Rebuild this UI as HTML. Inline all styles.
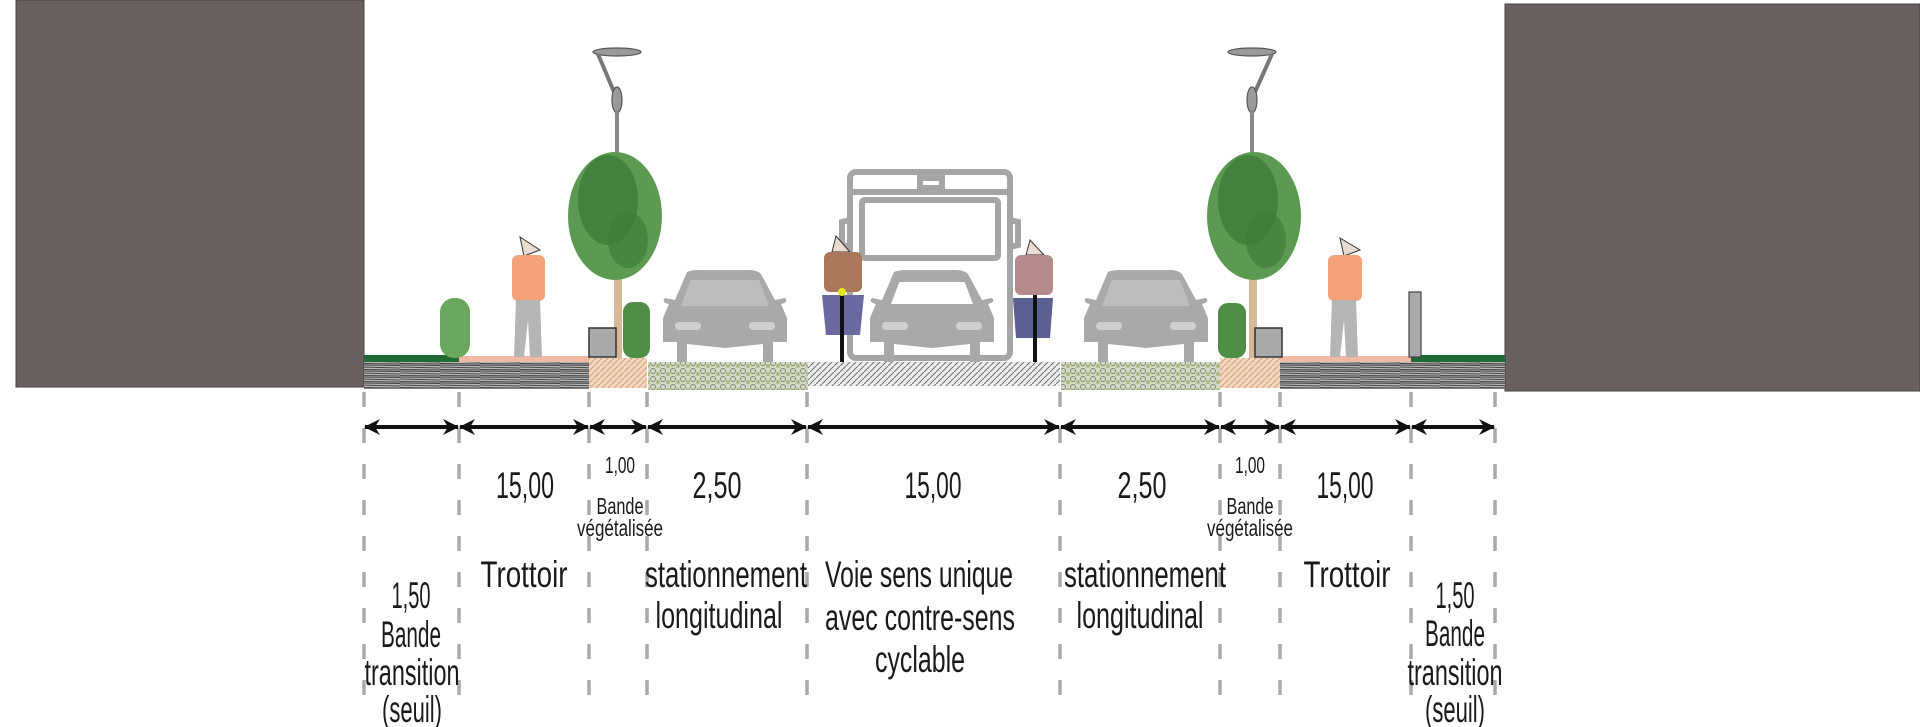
<!DOCTYPE html>
<html><head><meta charset="utf-8"><style>
html,body{margin:0;padding:0;background:#fff;}
svg{display:block;}
text{font-family:"Liberation Sans Narrow","Liberation Sans",sans-serif;fill:#1a1a1a;}
</style></head><body>
<svg width="1920" height="727" viewBox="0 0 1920 727" xmlns="http://www.w3.org/2000/svg">
<defs>
<pattern id="dark" width="40" height="6" patternUnits="userSpaceOnUse">
<rect width="40" height="6" fill="#b9b9b9"/>
<path d="M0 1 L40 2 M0 3.5 L40 4 M0 5 L40 5.5" stroke="#444" stroke-width="1"/>
</pattern>
<pattern id="road" width="6" height="6" patternUnits="userSpaceOnUse">
<rect width="6" height="6" fill="#eee"/>
<path d="M0 6 L6 0" stroke="#777" stroke-width="1.1"/>
</pattern>
<pattern id="tan" width="6" height="6" patternUnits="userSpaceOnUse">
<rect width="6" height="6" fill="#f2d6bf"/>
<path d="M0 6 L6 0" stroke="#d6a680" stroke-width="1.2"/>
</pattern>
<pattern id="park" width="10" height="8" patternUnits="userSpaceOnUse">
<rect width="10" height="8" fill="#d4d8c6"/>
<circle cx="3" cy="3" r="2.5" fill="none" stroke="#7e8870" stroke-width="0.9"/>
<circle cx="8" cy="6" r="2" fill="#a9bc80"/>
</pattern>
<marker id="ah" viewBox="0 0 16 16" refX="15" refY="8" markerWidth="16" markerHeight="16" markerUnits="userSpaceOnUse" orient="auto-start-reverse">
<path d="M0 0 L16 8 L0 16 L5 8 Z" fill="#111"/>
</marker>
<g id="car">
<path d="M24 2 Q28 0 36 0 L86 0 Q94 0 98 4 L112 30 L122 28 Q126 32 118 34 L124 48 L124 72 L110 72 L110 92 L100 92 L100 74 L62 78 L24 74 L24 92 L14 92 L14 72 L0 72 L0 48 L6 34 Q-2 32 2 28 L12 30 Z" fill="#a9a9a9"/>
<path d="M28 10 L96 10 L106 36 L18 36 Z" fill="#bdbdbd"/>
<rect x="12" y="52" width="26" height="8" rx="4" fill="#cfcfcf"/>
<rect x="86" y="52" width="26" height="8" rx="4" fill="#cfcfcf"/>
</g>
</defs>

<rect x="16" y="0" width="348" height="387" fill="#6a605f" stroke="#444" stroke-width="1"/>
<rect x="1505" y="4" width="415" height="387" fill="#6a605f" stroke="#444" stroke-width="1"/>

<rect x="364" y="355" width="95" height="7" fill="#1e6a35"/>
<rect x="459" y="356" width="130" height="6" fill="#f2b8a2"/>
<rect x="364" y="362" width="225" height="27" fill="url(#dark)"/>
<rect x="589" y="358" width="58" height="30" fill="url(#tan)"/>
<rect x="648" y="362" width="160" height="28" fill="url(#park)"/>
<rect x="808" y="362" width="252" height="24" fill="url(#road)"/>
<rect x="1061" y="362" width="159" height="28" fill="url(#park)"/>
<rect x="1220" y="358" width="60" height="30" fill="url(#tan)"/>
<rect x="1280" y="356" width="131" height="6" fill="#f2b8a2"/>
<rect x="1411" y="355" width="94" height="7" fill="#1e6a35"/>
<rect x="1280" y="362" width="225" height="27" fill="url(#dark)"/>

<g fill="#9a9a9a" stroke="#555" stroke-width="1.2">
<ellipse cx="617" cy="52" rx="24" ry="4"/>
<path d="M598 54 L614 92" fill="none" stroke="#777" stroke-width="4"/>
<ellipse cx="617" cy="100" rx="5" ry="13"/>
<rect x="615" y="110" width="4" height="245" fill="#888" stroke="none"/>
<ellipse cx="1252" cy="52" rx="24" ry="4"/>
<path d="M1272 54 L1255 92" fill="none" stroke="#777" stroke-width="4"/>
<ellipse cx="1252" cy="100" rx="5" ry="13"/>
<rect x="1250" y="110" width="4" height="245" fill="#888" stroke="none"/>
</g>

<rect x="614" y="275" width="8" height="83" fill="#d7b998"/>
<rect x="1249" y="275" width="8" height="83" fill="#d7b998"/>
<g>
<ellipse cx="615" cy="216" rx="47" ry="64" fill="#5c9a52"/>
<ellipse cx="608" cy="200" rx="30" ry="45" fill="#3f7d3a" opacity="0.8"/>
<ellipse cx="628" cy="240" rx="20" ry="28" fill="#3f7d3a" opacity="0.7"/>
<ellipse cx="1254" cy="216" rx="47" ry="64" fill="#5c9a52"/>
<ellipse cx="1248" cy="200" rx="30" ry="45" fill="#3f7d3a" opacity="0.8"/>
<ellipse cx="1266" cy="240" rx="20" ry="28" fill="#3f7d3a" opacity="0.7"/>
</g>
<rect x="589" y="328" width="27" height="29" fill="#aaa" stroke="#333" stroke-width="1.5"/>
<rect x="1255" y="328" width="27" height="29" fill="#aaa" stroke="#333" stroke-width="1.5"/>
<rect x="440" y="298" width="30" height="60" rx="14" fill="#6aa860"/>
<rect x="623" y="302" width="27" height="56" rx="10" fill="#4f8f45"/>
<rect x="1218" y="303" width="28" height="55" rx="10" fill="#4f8f45"/>
<rect x="1409" y="292" width="12" height="65" fill="#aaa" stroke="#444" stroke-width="1.2"/>

<use href="#car" x="663" y="270"/>
<use href="#car" x="1084" y="270"/>
<g fill="none" stroke="#a5a5a5" stroke-width="6">
<rect x="850" y="172" width="160" height="186" rx="6"/>
<line x1="850" y1="192" x2="1010" y2="192"/>
<rect x="862" y="200" width="136" height="58" rx="3"/>
<rect x="920" y="178" width="22" height="10"/>
<path d="M850 220 L842 222 L842 245 L850 247 M1010 220 L1018 222 L1018 245 L1010 247"/>
</g>
<use href="#car" x="870" y="270"/>
<g fill="#fff"><path d="M898 280 L966 280 L976 306 L888 306 Z"/></g>
<g fill="none" stroke="#a9a9a9" stroke-width="4"><path d="M898 280 L966 280 L976 306 L888 306 Z"/></g>

<g>
<path d="M836 236 L850 252 L832 252 Z" fill="#eadbd0" stroke="#333" stroke-width="1"/>
<rect x="824" y="252" width="38" height="40" rx="6" fill="#a9785a"/>
<path d="M822 295 L864 295 L860 335 L826 335 Z" fill="#6a6aa0"/>
<rect x="840" y="292" width="4" height="70" fill="#111"/>
<circle cx="842" cy="292" r="4" fill="#e6e620"/>
<path d="M1030 240 L1044 255 L1026 255 Z" fill="#eadbd0" stroke="#333" stroke-width="1"/>
<rect x="1015" y="255" width="38" height="40" rx="6" fill="#b48a8a"/>
<path d="M1013 298 L1053 298 L1050 338 L1016 338 Z" fill="#5a6090"/>
<rect x="1033" y="295" width="4" height="67" fill="#111"/>
</g>
<g>
<path d="M520 237 L540 250 L524 256 Z" fill="#eadbd0" stroke="#333" stroke-width="1"/>
<rect x="512" y="255" width="33" height="46" rx="6" fill="#f4a27a"/>
<path d="M516 300 L540 300 L542 357 L530 357 L528 320 L524 357 L514 357 Z" fill="#b5b5b5"/>
<path d="M1340 238 L1360 250 L1344 256 Z" fill="#eadbd0" stroke="#333" stroke-width="1"/>
<rect x="1328" y="255" width="34" height="46" rx="6" fill="#f4a27a"/>
<path d="M1332 300 L1356 300 L1358 357 L1346 357 L1344 320 L1340 357 L1330 357 Z" fill="#b5b5b5"/>
</g>

<g stroke="#aaa" stroke-width="3.5" stroke-dasharray="15 21">
<line x1="364" y1="392" x2="364" y2="715"/>
<line x1="459" y1="392" x2="459" y2="715"/>
<line x1="589" y1="392" x2="589" y2="715"/>
<line x1="647" y1="392" x2="647" y2="715"/>
<line x1="807" y1="392" x2="807" y2="715"/>
<line x1="1060" y1="392" x2="1060" y2="715"/>
<line x1="1220" y1="392" x2="1220" y2="715"/>
<line x1="1280" y1="392" x2="1280" y2="715"/>
<line x1="1411" y1="392" x2="1411" y2="715"/>
<line x1="1495" y1="392" x2="1495" y2="715"/>
</g>

<g stroke="#111" stroke-width="4" marker-start="url(#ah)" marker-end="url(#ah)">
<line x1="365" y1="427" x2="458" y2="427"/>
<line x1="460" y1="427" x2="588" y2="427"/>
<line x1="590" y1="427" x2="646" y2="427"/>
<line x1="648" y1="427" x2="806" y2="427"/>
<line x1="808" y1="427" x2="1059" y2="427"/>
<line x1="1061" y1="427" x2="1219" y2="427"/>
<line x1="1221" y1="427" x2="1279" y2="427"/>
<line x1="1281" y1="427" x2="1410" y2="427"/>
<line x1="1412" y1="427" x2="1494" y2="427"/>
</g>

<g text-anchor="middle" font-size="37">
<text x="525" y="498" textLength="58" lengthAdjust="spacingAndGlyphs">15,00</text>
<text x="717" y="498" textLength="49" lengthAdjust="spacingAndGlyphs">2,50</text>
<text x="933" y="498" textLength="57" lengthAdjust="spacingAndGlyphs">15,00</text>
<text x="1142" y="498" textLength="49" lengthAdjust="spacingAndGlyphs">2,50</text>
<text x="1345" y="498" textLength="57" lengthAdjust="spacingAndGlyphs">15,00</text>

<text x="524" y="587" textLength="87" lengthAdjust="spacingAndGlyphs">Trottoir</text>
<text x="1347" y="587" textLength="87" lengthAdjust="spacingAndGlyphs">Trottoir</text>
<text x="726" y="587" textLength="162" lengthAdjust="spacingAndGlyphs">stationnement</text>
<text x="719" y="628" textLength="127" lengthAdjust="spacingAndGlyphs">longitudinal</text>
<text x="1145" y="587" textLength="162" lengthAdjust="spacingAndGlyphs">stationnement</text>
<text x="1140" y="628" textLength="127" lengthAdjust="spacingAndGlyphs">longitudinal</text>
<text x="919" y="587" textLength="188" lengthAdjust="spacingAndGlyphs">Voie sens unique</text>
<text x="920" y="630" textLength="190" lengthAdjust="spacingAndGlyphs">avec contre-sens</text>
<text x="920" y="672" textLength="90" lengthAdjust="spacingAndGlyphs">cyclable</text>

<text x="411" y="608" textLength="39" lengthAdjust="spacingAndGlyphs">1,50</text>
<text x="411" y="647" textLength="60" lengthAdjust="spacingAndGlyphs">Bande</text>
<text x="412" y="685" textLength="95" lengthAdjust="spacingAndGlyphs">transition</text>
<text x="412" y="722" textLength="60" lengthAdjust="spacingAndGlyphs">(seuil)</text>
<text x="1455" y="608" textLength="39" lengthAdjust="spacingAndGlyphs">1,50</text>
<text x="1455" y="646" textLength="60" lengthAdjust="spacingAndGlyphs">Bande</text>
<text x="1455" y="685" textLength="95" lengthAdjust="spacingAndGlyphs">transition</text>
<text x="1455" y="722" textLength="60" lengthAdjust="spacingAndGlyphs">(seuil)</text>
</g>
<g text-anchor="middle" font-size="23">
<text x="620" y="473" textLength="30" lengthAdjust="spacingAndGlyphs">1,00</text>
<text x="620" y="514" textLength="47" lengthAdjust="spacingAndGlyphs">Bande</text>
<text x="620" y="536" textLength="86" lengthAdjust="spacingAndGlyphs">végétalisée</text>
<text x="1250" y="473" textLength="30" lengthAdjust="spacingAndGlyphs">1,00</text>
<text x="1250" y="514" textLength="47" lengthAdjust="spacingAndGlyphs">Bande</text>
<text x="1250" y="536" textLength="86" lengthAdjust="spacingAndGlyphs">végétalisée</text>
</g>
</svg>
</body></html>
